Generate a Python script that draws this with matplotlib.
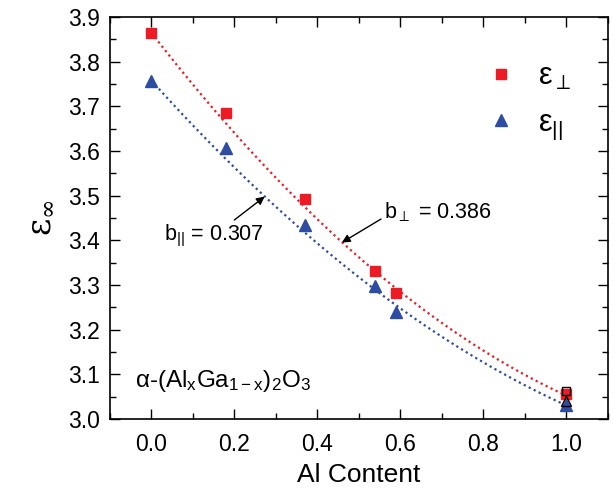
import numpy as np
import matplotlib.pyplot as plt
from matplotlib.ticker import MultipleLocator

plt.rcParams['font.family'] = ['Liberation Sans', 'DejaVu Sans']
plt.rcParams['mathtext.fontset'] = 'custom'
plt.rcParams['mathtext.rm'] = 'Liberation Sans'
plt.rcParams['mathtext.it'] = 'Liberation Sans'

# measured data
al_x = [0.0, 0.18, 0.37, 0.54, 0.59, 1.0]
eps_perp = [3.865, 3.686, 3.492, 3.332, 3.281, 3.055]
eps_par = [3.758, 3.606, 3.435, 3.297, 3.239, 3.030]

# reference values at x = 1 (open symbols)
ref_x = [1.0]
ref_perp = [3.062]
ref_par = [3.040]

# bowing fits
b_perp = 0.386
b_par = 0.307
fit_perp_ends = (3.865, 3.052)
fit_par_ends = (3.758, 3.030)

red = '#ED1C24'
blue = '#2E4DA0'

fig = plt.figure(figsize=(6.14, 4.91), dpi=100)
ax = fig.add_axes([0.179, 0.147, 0.811, 0.818])

xx = np.linspace(0, 1, 200)
def bowing(ends, b):
    return (1 - xx) * ends[0] + xx * ends[1] - b * xx * (1 - xx)

ax.plot(xx, bowing(fit_perp_ends, b_perp), color=red, ls=(0, (1, 1.5)), lw=1.6)
ax.plot(xx, bowing(fit_par_ends, b_par), color=blue, ls=(0, (1, 1.5)), lw=1.6)

ax.plot(al_x, eps_perp, 's', color=red, ms=7, ls='none', label=r'$\epsilon_{\perp}$')
ax.plot(al_x, eps_par, '^', color=blue, ms=8, ls='none', label=r'$\epsilon_{||}$')
ax.plot(ref_x, ref_perp, 's', mfc='none', mec='black', ms=6, mew=1)
ax.plot(ref_x, ref_par, '^', mfc='none', mec='black', ms=7, mew=1)

ax.set_xlim(-0.1, 1.1)
ax.set_ylim(3.0, 3.9)
ax.xaxis.set_major_locator(MultipleLocator(0.2))
ax.xaxis.set_minor_locator(MultipleLocator(0.1))
ax.yaxis.set_major_locator(MultipleLocator(0.1))
ax.yaxis.set_minor_locator(MultipleLocator(0.05))
ax.tick_params(which='both', direction='in', top=True, right=True, labelsize=16.5, width=1)
ax.tick_params(which='major', length=7)
ax.tick_params(which='minor', length=4)
ax.xaxis.set_tick_params(pad=10)
ax.yaxis.set_tick_params(pad=7)
for s in ax.spines.values():
    s.set_linewidth(1.2)

ax.set_xlabel('Al Content', fontsize=19, labelpad=5)
ax.set_ylabel(r'$\mathregular{\epsilon_{\infty}}$', fontsize=24, labelpad=8,
              family=['DejaVu Serif'])

leg = ax.legend(loc='upper right', bbox_to_anchor=(0.98, 0.96), frameon=False,
                handletextpad=0.7, labelspacing=0.5, handlelength=1.0,
                prop={'family': 'DejaVu Serif', 'size': 22})

ax.annotate(r'b$_{||}$ = 0.307', xy=(0.273, 3.498), xytext=(0.03, 3.41),
            fontsize=15.5, va='center',
            arrowprops=dict(arrowstyle='-|>', color='black', lw=1, shrinkA=0, shrinkB=0,
                            mutation_scale=12),
            )
ax.annotate(r'b$_{\perp}$ = 0.386', xy=(0.459, 3.395), xytext=(0.56, 3.462),
            fontsize=15.5, va='center',
            arrowprops=dict(arrowstyle='-|>', color='black', lw=1, shrinkA=0, shrinkB=0,
                            mutation_scale=12, relpos=(0, 0.3)),
            )

ax.text(-0.04, 3.085, r'$\alpha$-(Al$_x$Ga$_{1-x}$)$_2$O$_3$', fontsize=17.5, va='center')

fig.savefig('out.png', dpi=100)
